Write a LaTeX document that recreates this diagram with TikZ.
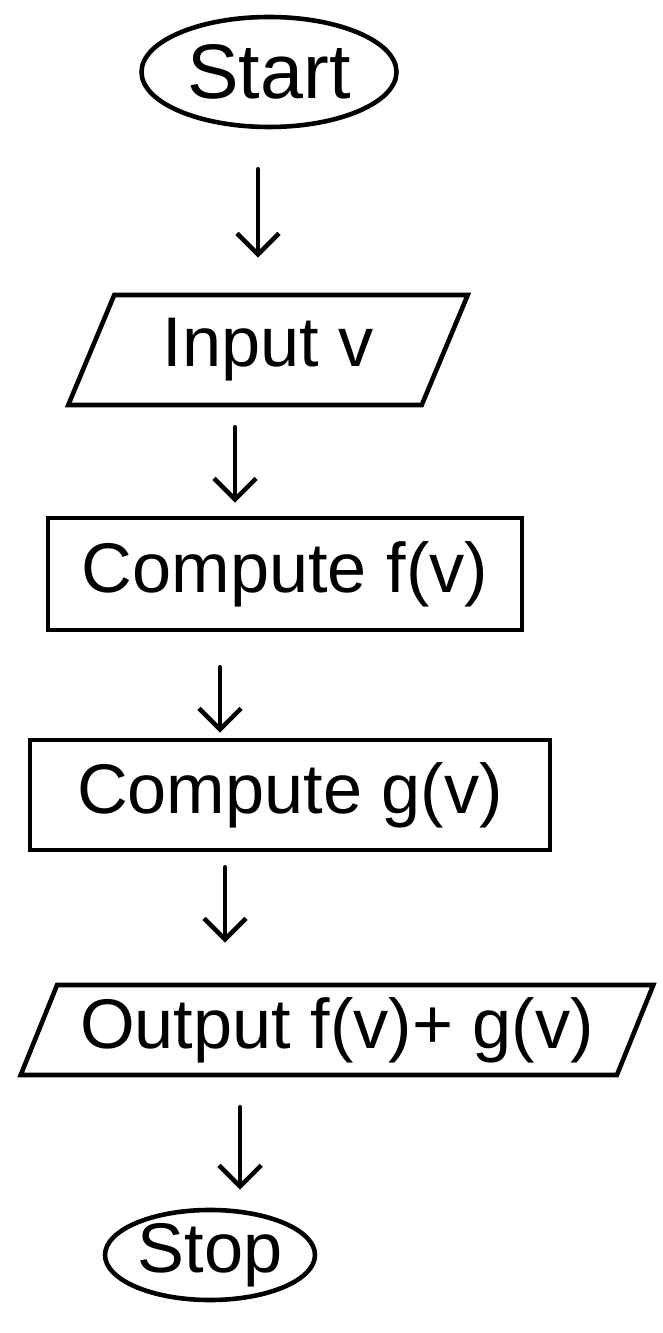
\documentclass[tikz,border=0pt]{standalone}
\usepackage{fontspec}
\setmainfont{Liberation Sans}
\usetikzlibrary{arrows.meta,positioning,shapes.geometric}

\begin{document}
\begin{tikzpicture}[
    terminal/.style={ellipse, draw=black, line width=2.6pt, inner sep=0pt, align=center},
    iobox/.style={trapezium, trapezium left angle=65, trapezium right angle=115,
      trapezium stretches=true, draw=black, line width=2.6pt, inner sep=2pt},
    procbox/.style={rectangle, draw=black, line width=2.6pt, inner sep=2pt},
    flowarrow/.style={-{Straight Barb[length=12pt, width=24pt, line width=2.6pt]}, line width=2.6pt, line cap=round},
    every node/.style={font=\fontsize{40}{46}\selectfont}
  ]
    \useasboundingbox (0,0) rectangle (13.26,26.66);
    \node[terminal, minimum width=5.1cm, minimum height=2.2cm]  (start)  at (5.38,25.22) {\fontsize{44}{50}\selectfont Start};
    \node[iobox, minimum width=8cm, minimum height=2.2cm]       (input)  at (5.36,19.66) {Input v};
    \node[procbox, minimum width=9.48cm, minimum height=2.24cm] (fcomp)  at (5.70,15.18) {Compute f(v)};
    \node[procbox, minimum width=10.4cm, minimum height=2.2cm]  (gcomp)  at (5.80,10.76) {Compute g(v)};
    \node[iobox, minimum width=12.7cm, minimum height=1.8cm]    (output) at (6.74,6.06)  {Output f(v)+ g(v)};
    \node[terminal, minimum width=4.2cm, minimum height=1.7cm]  (stop)   at (4.20,1.56)  {Stop};
    % arrows sit in the gaps, a little left of centre
    \draw[flowarrow, shorten <=0.8cm, shorten >=0.7cm]
      ([xshift=-0.22cm]start.south) -- ([xshift=-0.22cm]start.south |- input.north);
    \draw[flowarrow, shorten <=0.4cm, shorten >=0.26cm]
      ([xshift=-0.66cm]input.south) -- ([xshift=-0.66cm]input.south |- fcomp.north);
    \draw[flowarrow, shorten <=0.7cm, shorten >=0.1cm]
      ([xshift=-1.3cm]fcomp.south) -- ([xshift=-1.3cm]fcomp.south |- gcomp.north);
    \draw[flowarrow, shorten <=0.3cm, shorten >=0.8cm]
      ([xshift=-1.3cm]gcomp.south) -- ([xshift=-1.3cm]gcomp.south |- output.north);
    \draw[flowarrow, shorten <=0.6cm, shorten >=0.36cm]
      ([xshift=-1.94cm]output.south) -- ([xshift=-1.94cm]output.south |- stop.north);
  \end{tikzpicture}
\end{document}
